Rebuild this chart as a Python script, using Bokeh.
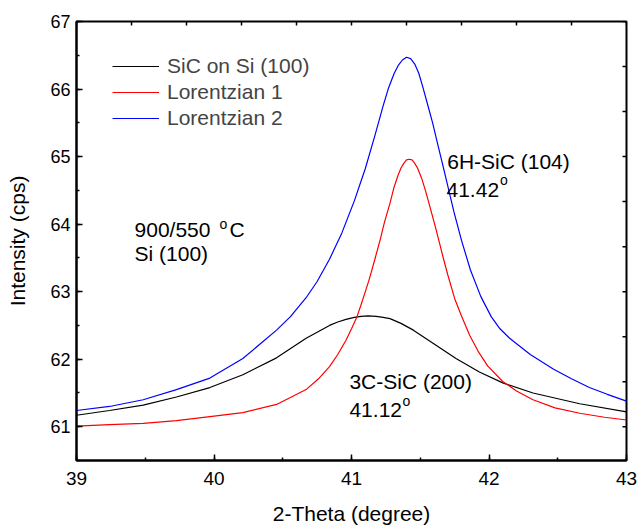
import numpy as np
from bokeh.plotting import figure
from bokeh.models import (Range1d, SingleIntervalTicker, Legend, LegendItem)
from bokeh.core.properties import value
from bokeh.embed import file_html
from bokeh.resources import INLINE

# ---- data ----
theta_sic = [39.0, 39.24, 39.485, 39.727, 39.97, 40.21, 40.455, 40.67, 40.84, 40.90,
             40.96, 41.02, 41.07, 41.12, 41.18, 41.23, 41.28, 41.36, 41.45, 41.59,
             41.76, 41.93, 42.10, 42.32, 42.66, 43.0]
int_sic = [61.17, 61.24, 61.32, 61.44, 61.58, 61.77, 62.02, 62.31, 62.50, 62.55,
           62.59, 62.62, 62.635, 62.64, 62.635, 62.62, 62.60, 62.53, 62.43, 62.24,
           62.01, 61.81, 61.65, 61.50, 61.34, 61.22]

theta_l1 = [39.0, 39.24, 39.485, 39.727, 39.97, 40.21, 40.455, 40.67, 40.76, 40.84,
            40.90, 40.96, 41.00, 41.04, 41.08, 41.13, 41.17, 41.21, 41.24, 41.28,
            41.31, 41.34, 41.36, 41.38, 41.40, 41.42, 41.44, 41.46, 41.48, 41.51,
            41.54, 41.57, 41.61, 41.635, 41.67, 41.70, 41.75, 41.80, 41.86, 41.92,
            41.99, 42.10, 42.20, 42.32, 42.48, 42.66, 42.84, 43.0]
int_l1 = [61.01, 61.03, 61.05, 61.09, 61.15, 61.21, 61.33, 61.55, 61.71, 61.89,
          62.07, 62.28, 62.45, 62.63, 62.87, 63.19, 63.48, 63.78, 64.03, 64.31,
          64.55, 64.73, 64.83, 64.90, 64.95, 64.96, 64.95, 64.90, 64.83, 64.68,
          64.48, 64.26, 63.96, 63.76, 63.48, 63.25, 62.90, 62.64, 62.35, 62.12,
          61.90, 61.67, 61.53, 61.40, 61.28, 61.20, 61.14, 61.10]

theta_l2 = [39.0, 39.24, 39.485, 39.727, 39.97, 40.21, 40.455, 40.556, 40.67, 40.75,
            40.84, 40.93, 41.02, 41.10, 41.17, 41.23, 41.27, 41.31, 41.34, 41.37,
            41.40, 41.43, 41.46, 41.49, 41.52, 41.555, 41.59, 41.625, 41.675, 41.745,
            41.80, 41.865, 41.94, 42.016, 42.08, 42.15, 42.30, 42.47, 42.60, 42.73,
            42.86, 43.0]
int_l2 = [61.24, 61.30, 61.40, 61.55, 61.72, 62.01, 62.43, 62.63, 62.91, 63.15,
          63.48, 63.87, 64.34, 64.82, 65.31, 65.75, 66.02, 66.23, 66.35, 66.43,
          66.47, 66.45, 66.37, 66.23, 66.02, 65.76, 65.50, 65.20, 64.78, 64.18,
          63.76, 63.32, 62.93, 62.63, 62.45, 62.31, 62.07, 61.85, 61.71, 61.58,
          61.48, 61.38]

series_names = ["SiC on Si (100)", "Lorentzian 1", "Lorentzian 2"]
series_colors = ["#000000", "#FF0000", "#0000FF"]

FONT = "Liberation Sans"

p = figure(width=641, height=527, x_range=Range1d(39, 43), y_range=Range1d(60.5, 67),
           output_backend="svg", toolbar_location=None,
           min_border_left=76, min_border_right=15, min_border_top=21, min_border_bottom=65,
           x_axis_label="2-Theta (degree)", y_axis_label="Intensity (cps)")
p.xgrid.visible = False
p.ygrid.visible = False
p.outline_line_color = "black"
p.outline_line_width = 2
p.background_fill_color = "white"
p.border_fill_color = "white"

for ax, size in ((p.xaxis[0], "19px"), (p.yaxis[0], "18px")):
    ax.ticker = SingleIntervalTicker(interval=1, num_minor_ticks=2)
    ax.axis_line_width = 2
    ax.major_tick_in = 6
    ax.major_tick_out = 0
    ax.minor_tick_in = 3
    ax.minor_tick_out = 0
    ax.major_tick_line_width = 1.5
    ax.minor_tick_line_width = 1.5
    ax.major_label_text_font = FONT
    ax.major_label_text_font_size = size
    ax.major_label_text_color = "black"
    ax.axis_label_text_font = FONT
    ax.axis_label_text_font_size = "21px"
    ax.axis_label_text_font_style = "normal"
    ax.axis_label_text_color = "black"
p.xaxis[0].major_label_standoff = 11
p.xaxis[0].axis_label_standoff = 14
p.yaxis[0].major_label_standoff = 6
p.yaxis[0].axis_label_standoff = 18

# inward tick marks of the top and right frame edges
top_ticks = list(np.round(np.arange(39.0, 43.001, 0.4), 3))
right_ticks = list(np.round(67 - np.arange(0, 10) * (2.0 / 3.0), 4))
p.ray(x=top_ticks, y=67, length=4, length_units="screen", angle=-np.pi / 2,
      line_color="black", line_width=1.5)
p.ray(x=43, y=right_ticks, length=4, length_units="screen", angle=np.pi,
      line_color="black", line_width=1.5)

r1 = p.line(theta_sic, int_sic, line_color=series_colors[0], line_width=1.2)
r2 = p.line(theta_l1, int_l1, line_color=series_colors[1], line_width=1.2)
r3 = p.line(theta_l2, int_l2, line_color=series_colors[2], line_width=1.2)

legend = Legend(items=[LegendItem(label=series_names[0], renderers=[r1]),
                       LegendItem(label=series_names[1], renderers=[r2]),
                       LegendItem(label=series_names[2], renderers=[r3])],
                location=(36, 329), padding=0, margin=0, spacing=0,
                glyph_width=47, glyph_height=26, label_height=26, label_standoff=8,
                label_text_font=FONT, label_text_font_size="21px",
                border_line_alpha=0, background_fill_alpha=0)
p.add_layout(legend, "center")

# annotation texts (main size)
ann_x = [39.422, 40.113, 39.422, 41.696, 41.691, 40.985, 40.985]
ann_y = [63.926, 63.926, 63.559, 64.926, 64.50, 61.676, 61.25]
ann_t = ["900/550", "C", "Si (100)", "6H-SiC (104)", "41.42", "3C-SiC (200)", "41.12"]
p.text(ann_x, ann_y, text=ann_t, text_font=value(FONT), text_font_size="21px",
       text_color="black", text_align="left", text_baseline="alphabetic")

# superscript degree marks
sup_x = [40.04, 42.08, 41.371]
sup_y = [64.006, 64.647, 61.388]
sup_t = ["o", "o", "o"]
p.text(sup_x, sup_y, text=sup_t, text_font=value(FONT), text_font_size="14px",
       text_color="black", text_align="left", text_baseline="alphabetic")

open("out.html", "w").write(file_html(p, INLINE))
